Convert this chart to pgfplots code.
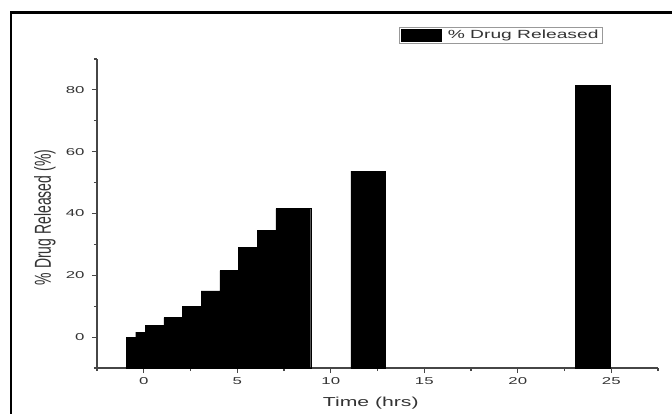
\documentclass[border=0pt]{standalone}
\usepackage{fontspec}
\setmainfont{Liberation Sans}
\newfontfamily\stretchfont{Liberation Sans}[FakeStretch=1.68]
\newfontfamily\labelfont{Liberation Sans}[FakeStretch=1.63]
\usepackage{pgfplots}
\usepackage{pgfplotstable}
\pgfplotsset{compat=1.18}
\definecolor{axgray}{RGB}{70,70,70}
\pgfplotstableread{
t r
0 0
0.5 1.6
1 3.8
2 6.3
3 10.0
4 15.0
5 21.5
6 29.1
7 34.5
8 41.6
12 53.7
24 81.5
}\drugdata
\begin{document}
\begin{tikzpicture}
\begin{axis}[
  at={(97pt,45pt)}, anchor=south west,
  scale only axis, width=561pt, height=309pt,
  xmin=-2.5, xmax=27.5, ymin=0, ymax=100,
  axis lines*=left,
  axis line style={-, axgray, line width=1.2pt},
  tick style={axgray, line width=1.1pt},
  tick align=outside,
  major tick length=5pt, minor tick length=3pt,
  xtick={0,5,10,15,20,25},
  minor xtick={-2.5,2.5,7.5,12.5,17.5,22.5,27.5},
  ytick={10,30,50,70,90},
  yticklabels={0,20,40,60,80},
  minor ytick={0,20,40,60,80,100},
  /pgf/number format/assume math mode=true,
  tick label style={font=\stretchfont\fontsize{10}{12}\selectfont, text=black!80},
  yticklabel style={xshift=-4pt},
  xticklabel style={yshift=-1pt},
  xlabel={\labelfont\fontsize{13}{15}\selectfont Time (hrs)},
  every axis x label/.style={at={(axis description cs:0.488,-0.1133)}, anchor=center, text=black!80},
  ylabel={\scalebox{1}[1.65]{\fontsize{14}{16}\selectfont \% Drug Released (\%)}},
  every axis y label/.style={at={(axis description cs:-0.0927,0.487)}, rotate=90, anchor=center, text=black!80},
  legend style={at={(axis description cs:0.5383,1.1036)}, anchor=north west,
    draw=black!40, line width=0.8pt, inner xsep=2pt, inner ysep=1pt,
    font=\labelfont\fontsize{11.8}{14}\selectfont, text=black!80},
  legend image code/.code={\fill[black] (4pt,-6pt) rectangle (44pt,6pt); \path (48pt,0pt);},
  legend cell align=left,
]
\addplot[ybar, bar width=1.86, bar shift=0pt, fill=black, draw=black, line width=0.4pt]
  table[x=t, y expr=\thisrow{r}+10] {\drugdata};
\addlegendentry{\% Drug Released}
\end{axis}
\draw[line width=2.2pt, black] (11pt,-10pt) -- (11pt,400.5pt) -- (690pt,400.5pt);
\pgfresetboundingbox
\path[use as bounding box] (0pt,0pt) rectangle (672pt,413pt);
\end{tikzpicture}
\end{document}
